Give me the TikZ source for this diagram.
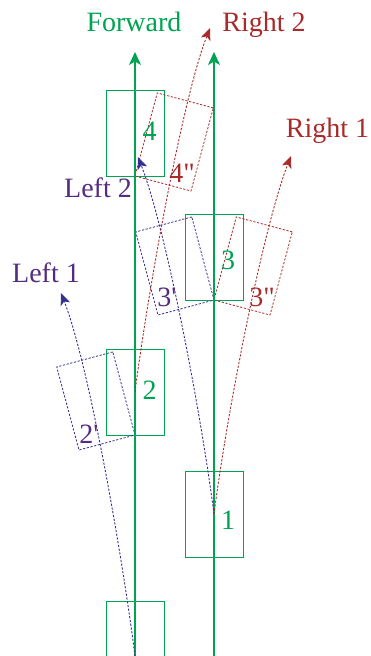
\documentclass[tikz,border=0pt]{standalone}
\usepackage{fontspec}
\newfontfamily\lab{Liberation Serif}
\usetikzlibrary{arrows.meta}
\definecolor{gr}{RGB}{0,163,82}
\definecolor{rd}{RGB}{168,42,42}
\definecolor{bl}{RGB}{52,48,145}
\definecolor{pu}{RGB}{84,44,128}
\begin{document}
\begin{tikzpicture}[x=1pt,y=1pt,
  box/.style={draw=gr, line width=0.9pt, minimum width=58pt, minimum height=86pt, inner sep=0pt, outer sep=0pt},
  dbox/.style={line width=0.8pt, dash pattern=on 2.2pt off 1.6pt, minimum width=58pt, minimum height=86pt, inner sep=0pt, outer sep=0pt},
  lbox/.style={dbox, draw=bl, rotate=15, anchor=south east},
  rbox/.style={dbox, draw=rd, rotate=-15, anchor=south west},
  fwd/.style={draw=gr, line width=1.1pt, -{Stealth[length=13pt,width=12pt,inset=3.5pt]}},
  turn/.style={line width=0.9pt, dash pattern=on 2.2pt off 1.6pt, -{Stealth[length=12pt,width=10pt,inset=3pt]}},
  lpath/.style={turn, draw=bl, fill=none},
  rpath/.style={turn, draw=rd, fill=none},
  txt/.style={font=\lab\fontsize{28}{32}\selectfont, inner sep=0pt, outer sep=0pt},
]
\useasboundingbox (0,0) rectangle (370,656);
\clip (0,0) rectangle (370,656);

% green boxes
\node[box] (b0) at (135,12) {};
\node[box] (b1) at (214,142) {};
\node[box] (b2) at (135,264) {};
\node[box] (b3) at (214,399) {};
\node[box] (b4) at (135,523) {};

% rotated dashed boxes
\node[lbox] (b2l) at (b2.south) {};
\node[lbox] (b3l) at (b3.south) {};
\node[rbox] (b3r) at (b3.south) {};
\node[rbox] (b4r) at (b4.south) {};

% forward lines
\coordinate (f1s) at (135,0);
\coordinate (f1e) at (135,604);
\coordinate (f2s) at (214,0);
\coordinate (f2e) at (214,604);
\draw[fwd] (f1s) -- (f1e);
\draw[fwd] (f2s) -- (f2e);

% turning paths
\coordinate (l1s) at (135,0);
\coordinate (l1) at (61,363);
\coordinate (l2) at (138,499);
\coordinate (r1) at (291,500);
\coordinate (r2) at (210,628);
\draw[lpath] (l1s) .. controls +(-14,110) and +(27,-69) .. (l1);
\draw[lpath] (b1.center) .. controls +(-14,108) and +(27,-69) .. (l2);
\draw[rpath] (b1.center) .. controls +(14,108) and +(-27,-69) .. (r1);
\draw[rpath] (b2.center) .. controls +(14,108) and +(-27,-69) .. (r2);

% numbers
\node[txt, text=gr] (n1) at (228,136) {1};
\node[txt, text=gr] (n2) at (149.5,266) {2};
\node[txt, text=gr] (n3) at (228,396) {3};
\node[txt, text=gr] (n4) at (149.5,524.5) {4};
\node[txt, text=pu] (n2l) at (89,222) {2'};
\node[txt, text=pu] (n3l) at (167,359) {3'};
\node[txt, text=rd] (n3r) at (262,359) {3"};
\node[txt, text=rd] (n4r) at (182,483) {4"};

% titles
\node[txt, text=gr, anchor=base] (tf) at (134,624) {Forward};
\node[txt, text=rd, anchor=base] (tr2) at (264,624) {Right 2};
\node[txt, text=rd, anchor=base] (tr1) at (327.5,518) {Right 1};
\node[txt, text=pu, anchor=base] (tl2) at (98,458) {Left 2};
\node[txt, text=pu, anchor=base] (tl1) at (46,373) {Left 1};
\end{tikzpicture}
\end{document}
